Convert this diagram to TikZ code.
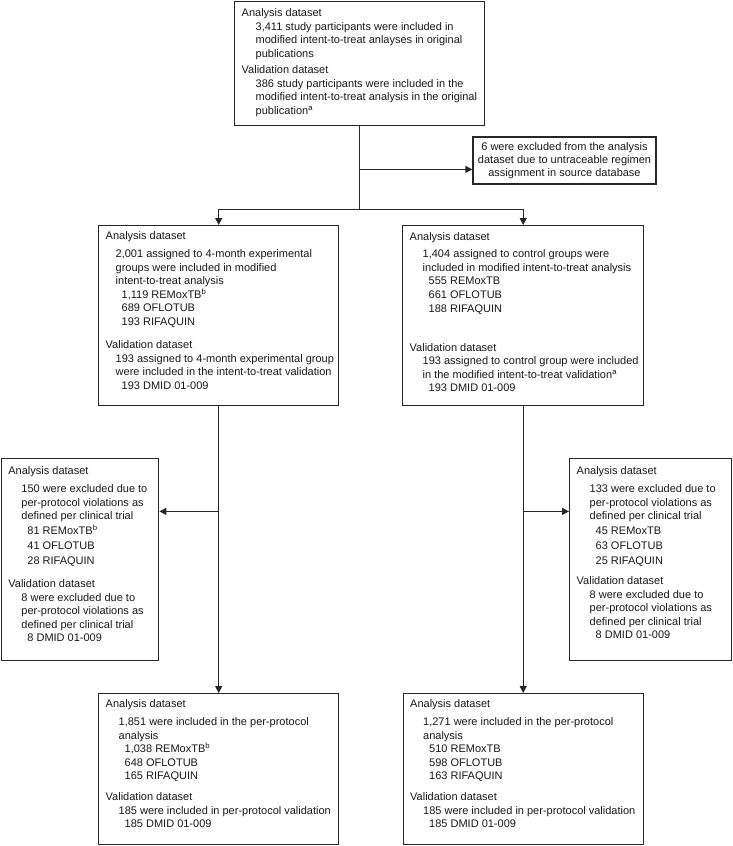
\documentclass[tikz,border=0pt]{standalone}
\usepackage{fontspec}
\setmainfont{Liberation Sans}
\usepackage{xcolor}
\usepackage{tikz}
\usetikzlibrary{arrows.meta}
\usetikzlibrary{calc}

\newlength{\indA}\setlength{\indA}{13pt}
\newlength{\indB}\setlength{\indB}{19pt}
\newcommand{\ia}{\hspace*{\indA}}
\newcommand{\ib}{\hspace*{\indB}}
% box text: width, height, top pad, lines
\newcommand{\boxlines}[4]{%
  \parbox[t][#2][t]{#1}{\vspace*{#3}\hspace*{7pt}%
    \begin{tabular}[t]{@{}l@{}}#4\end{tabular}}}

\begin{document}
\begin{tikzpicture}[x=1pt, y=-1pt,
    every node/.style={font=\fontsize{11}{13.5}\selectfont, text=black!90},
    box/.style={draw=black!85, line width=1.4pt, inner sep=0pt, anchor=north west},
    link/.style={draw=black!85, line width=1.4pt},
    arr/.style={link, -{Triangle[length=7pt, width=7pt]}}]

    \useasboundingbox (0,0) rectangle (732,846);

    % start
    \node[box] (top) at (234,1) {\setlength{\indA}{14pt}%
      \boxlines{250pt}{124pt}{5.5pt}{%
        Analysis dataset\\
        \ia 3,411 study participants were included in\\
        \ia modified intent-to-treat anlayses in original\\
        \ia publications\\[3pt]
        Validation dataset\\
        \ia 386 study participants were included in the\\
        \ia modified intent-to-treat analysis in the original\\
        \ia publication\textsuperscript{a}}};

    \node[box, anchor=center, align=center, minimum width=183pt, minimum height=47pt,
      font=\fontsize{11}{13}\selectfont] (excl) at (564.5,160.5)
      {6 were excluded from the analysis\\
       dataset due to untraceable regimen\\
       assignment in source database};

    % intent-to-treat
    \node[box] (midL) at (98,225) {\setlength{\indA}{10pt}\setlength{\indB}{16pt}%
      \boxlines{240pt}{180pt}{4.5pt}{%
        Analysis dataset\\[4.5pt]
        \ia 2,001 assigned to 4-month experimental\\
        \ia groups were included in modified\\
        \ia intent-to-treat analysis\\
        \ib 1,119 REMoxTB\textsuperscript{b}\\
        \ib 689 OFLOTUB\\
        \ib 193 RIFAQUIN\\[10pt]
        Validation dataset\\
        \ia 193 assigned to 4-month experimental group\\
        \ia were included in the intent-to-treat validation\\
        \ib 193 DMID 01-009}};

    \node[box] (midR) at (402,225) {%
      \boxlines{241pt}{180pt}{5.5pt}{%
        Analysis dataset\\[3.5pt]
        \ia 1,404 assigned to control groups were\\
        \ia included in modified intent-to-treat analysis\\
        \ib 555 REMoxTB\\
        \ib 661 OFLOTUB\\[1pt]
        \ib 188 RIFAQUIN\\[25pt]
        Validation dataset\\
        \ia 193 assigned to control group were included\\
        \ia in the modified intent-to-treat validation\textsuperscript{a}\\
        \ib 193 DMID 01-009}};

    % per-protocol exclusions
    \node[box] (sideL) at (0.7,458) {%
      \boxlines{157.3pt}{202pt}{6.5pt}{%
        Analysis dataset\\[4.5pt]
        \ia 150 were excluded due to\\
        \ia per-protocol violations as\\
        \ia defined per clinical trial\\[1pt]
        \ib 81 REMoxTB\textsuperscript{b}\\[1.5pt]
        \ib 41 OFLOTUB\\[1.5pt]
        \ib 28 RIFAQUIN\\[10pt]
        Validation dataset\\
        \ia 8 were excluded due to\\
        \ia per-protocol violations as\\
        \ia defined per clinical trial\\
        \ib 8 DMID 01-009}};

    \node[box] (sideR) at (569,458) {%
      \boxlines{161.5pt}{202pt}{6.5pt}{%
        Analysis dataset\\[4.5pt]
        \ia 133 were excluded due to\\
        \ia per-protocol violations as\\
        \ia defined per clinical trial\\[1pt]
        \ib 45 REMoxTB\\[1.5pt]
        \ib 63 OFLOTUB\\[1.5pt]
        \ib 25 RIFAQUIN\\[7pt]
        Validation dataset\\
        \ia 8 were excluded due to\\
        \ia per-protocol violations as\\
        \ia defined per clinical trial\\
        \ib 8 DMID 01-009}};

    % per-protocol
    \node[box] (botL) at (98,693) {%
      \boxlines{240pt}{151pt}{4.5pt}{%
        Analysis dataset\\[4.5pt]
        \ia 1,851 were included in the per-protocol\\
        \ia analysis\\
        \ib 1,038 REMoxTB\textsuperscript{b}\\
        \ib 648 OFLOTUB\\
        \ib 165 RIFAQUIN\\[7.5pt]
        Validation dataset\\
        \ia 185 were included in per-protocol validation\\
        \ib 185 DMID 01-009}};

    \node[box] (botR) at (402.5,693) {%
      \boxlines{240pt}{151pt}{4.5pt}{%
        Analysis dataset\\[4.5pt]
        \ia 1,271 were included in the per-protocol\\
        \ia analysis\\
        \ib 510 REMoxTB\\
        \ib 598 OFLOTUB\\
        \ib 163 RIFAQUIN\\[7.5pt]
        Validation dataset\\
        \ia 185 were included in per-protocol validation\\
        \ib 185 DMID 01-009}};

    % connectors
    \path (top.south) ++(0,43) coordinate (exj);
    \path (top.south) ++(0,83) coordinate (split);
    \draw[link] (top.south) -- (split);
    \draw[arr] (exj) -- (exj -| excl.west);
    \draw[arr] (split) -| (midL.north);
    \draw[arr] (split) -| (midR.north);

    \path (midL.south) ++(0,105) coordinate (brL);
    \path (midR.south) ++(0,105) coordinate (brR);
    \draw[arr] (midL.south) -- (botL.north);
    \draw[arr] (brL) -- (brL -| sideL.east);
    \draw[arr] (midR.south) -- (botR.north);
    \draw[arr] (brR) -- (brR -| sideR.west);

  \end{tikzpicture}
\end{document}
